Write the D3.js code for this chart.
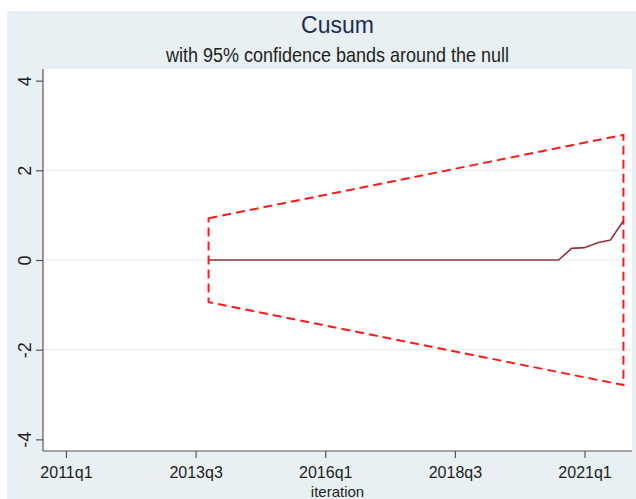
<!DOCTYPE html>
<meta charset="utf-8">
<head>
<style>
body { margin: 0; background: #fff; }
text { font-family: "Liberation Sans", Arial, sans-serif; }
.axis path, .axis line { stroke: #555; stroke-width: 1.2px; }
.axis text { fill: #1e1e1e; font-size: 16.5px; }
.grid line { stroke: #e6eef2; stroke-width: 1.2px; }
.band { fill: none; stroke: #ff1a1a; stroke-width: 2px; stroke-dasharray: 9,5; }
.cusum { fill: none; stroke: #90353b; stroke-width: 1.6px; }
</style>
<title>Cusum</title>
</head>
<body>
<svg id="graphic" width="636" height="499"></svg>
<script src="https://d3js.org/d3.v7.min.js"></script>
<script>
// data
var cusumQuarters = ["2013q4","2014q1","2014q2","2014q3","2014q4","2015q1","2015q2","2015q3","2015q4",
  "2016q1","2016q2","2016q3","2016q4","2017q1","2017q2","2017q3","2017q4","2018q1","2018q2","2018q3",
  "2018q4","2019q1","2019q2","2019q3","2019q4","2020q1","2020q2","2020q3","2020q4","2021q1","2021q2",
  "2021q3","2021q4"];
var cusumValues = [0,0,0,0,0,0,0,0,0,0,0,0,0,0,0,0,0,0,0,0,0,0,0,0,0,0,0,0,0.26,0.275,0.385,0.445,0.875];
var bandQuarters = ["2013q4","2021q4"];
var bandUpper = [0.93, 2.79];
var bandLower = [-0.94, -2.79];
var xTickLabels = ["2011q1","2013q3","2016q1","2018q3","2021q1"];
var yTicks = [-4, -2, 0, 2, 4];
var yGrid = [-2, 0, 2];

var svg = d3.select("svg"),
    width = +svg.attr("width"),
    height = +svg.attr("height");

var plot = {left: 43, right: 632, top: 69, bottom: 451};

// quarters counted from 2011q1
function qIndex(s) {
  var p = s.split("q");
  return (+p[0] - 2011) * 4 + (+p[1] - 1);
}

var x = d3.scaleLinear().domain([-1.77, 43.66]).range([plot.left, plot.right]);
var y = d3.scaleLinear().domain([-4.26, 4.26]).range([plot.bottom, plot.top]);

// graph region
svg.append("rect").attr("x", 7).attr("y", 11)
  .attr("width", width - 7).attr("height", height - 11)
  .attr("fill", "#e8f0f3");
svg.append("rect").attr("x", plot.left).attr("y", plot.top)
  .attr("width", plot.right - plot.left).attr("height", plot.bottom - plot.top)
  .attr("fill", "#fff");

svg.append("g").attr("class", "grid")
  .selectAll("line").data(yGrid).enter().append("line")
    .attr("x1", plot.left).attr("x2", plot.right)
    .attr("y1", function(d) { return y(d); })
    .attr("y2", function(d) { return y(d); });

// titles
var cx = (plot.left + plot.right) / 2;
svg.append("text").attr("transform", "translate(" + cx + ",33) scale(1,1.05)")
  .attr("text-anchor", "middle").attr("font-size", 23).attr("fill", "#1c2d50")
  .text("Cusum");
svg.append("text").attr("transform", "translate(" + cx + ",61.5) scale(1,1.15)")
  .attr("text-anchor", "middle").attr("font-size", 18).attr("fill", "#1e1e1e")
  .text("with 95% confidence bands around the null");

// confidence band
var bandPts = [];
bandQuarters.forEach(function(q, i) { bandPts.push([qIndex(q), bandUpper[i]]); });
bandQuarters.slice().reverse().forEach(function(q, i) {
  bandPts.push([qIndex(q), bandLower[bandQuarters.length - 1 - i]]);
});
svg.append("path").attr("class", "band")
  .attr("d", d3.line().x(function(d) { return x(d[0]); }).y(function(d) { return y(d[1]); })(bandPts) + "Z");

// cusum line
svg.append("path").attr("class", "cusum")
  .datum(cusumQuarters.map(function(q, i) { return [qIndex(q), cusumValues[i]]; }))
  .attr("d", d3.line().x(function(d) { return x(d[0]); }).y(function(d) { return y(d[1]); }));

// axes
var xAxis = svg.append("g").attr("class", "axis")
  .attr("transform", "translate(0," + plot.bottom + ")")
  .call(d3.axisBottom(x)
    .tickValues(xTickLabels.map(qIndex))
    .tickFormat(function(d, i) { return xTickLabels[i]; })
    .tickSize(7).tickSizeOuter(0).tickPadding(9));
xAxis.selectAll(".tick text").style("font-size", "16px");
xAxis.select(".domain").attr("d", "M" + plot.left + ",0H" + plot.right);

var yAxis = svg.append("g").attr("class", "axis")
  .attr("transform", "translate(" + plot.left + ",0)")
  .call(d3.axisLeft(y).tickValues(yTicks).tickSize(7).tickSizeOuter(0));
yAxis.select(".domain").attr("d", "M0," + plot.top + "V" + plot.bottom);
yAxis.selectAll(".tick text")
  .attr("transform", "rotate(-90)")
  .attr("x", 0).attr("y", -12).attr("dy", 0)
  .attr("text-anchor", "middle")
  .style("font-size", "18px")
  .text(function(d) { return d < 0 ? "-" + Math.abs(d) : d; });

svg.append("text").attr("x", cx).attr("y", 496.5)
  .attr("text-anchor", "middle").attr("font-size", 15).attr("fill", "#1e1e1e")
  .text("iteration");
</script>
</body>
